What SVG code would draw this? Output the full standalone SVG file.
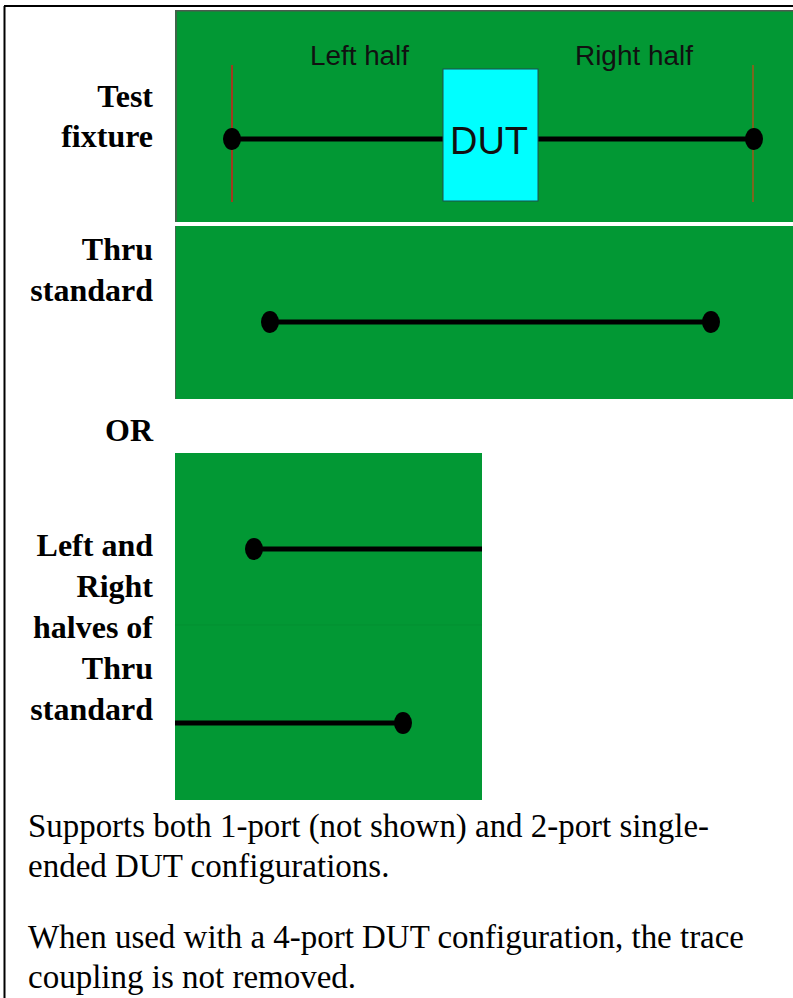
<svg xmlns="http://www.w3.org/2000/svg" width="793" height="998" viewBox="0 0 793 998">
<style>
.lbl{font-family:"Liberation Serif","Times New Roman",serif;font-weight:bold;font-size:32px;fill:#000;text-anchor:end}
.body{font-family:"Liberation Serif","Times New Roman",serif;font-size:33px;fill:#000}
.sans{font-family:"Liberation Sans",Arial,sans-serif;fill:#111}
.pcb{fill:#029834}
.trace{stroke:#000;stroke-width:5;fill:none}
.pad{fill:#000}
</style>
<rect width="793" height="998" fill="#fff"/>
<g id="frame">
<line x1="4.5" y1="6" x2="4.5" y2="998" stroke="#000" stroke-width="2"/>
<line x1="4" y1="6" x2="793" y2="6" stroke="#000" stroke-width="2.2"/>
</g>
<g id="labels">
<text class="lbl" x="153" y="107">Test</text>
<text class="lbl" x="153" y="147">fixture</text>
<text class="lbl" x="153" y="260">Thru</text>
<text class="lbl" x="153" y="301">standard</text>
<text class="lbl" x="153" y="441">OR</text>
<text class="lbl" x="153" y="556">Left and</text>
<text class="lbl" x="153" y="597">Right</text>
<text class="lbl" x="153" y="638">halves of</text>
<text class="lbl" x="153" y="679">Thru</text>
<text class="lbl" x="153" y="720">standard</text>
</g>
<g id="test-fixture">
<rect class="pcb" x="175" y="10" width="618" height="212"/>
<path d="M176 222 V10.8 H793" stroke="#4d5a4f" stroke-width="1.6" fill="none"/>
<text class="sans" x="310" y="65" font-size="27" textLength="99" lengthAdjust="spacingAndGlyphs">Left half</text>
<text class="sans" x="575" y="65" font-size="27" textLength="118" lengthAdjust="spacingAndGlyphs">Right half</text>
<line x1="232" y1="65" x2="232" y2="202" stroke="#b0301c" stroke-width="1.8"/>
<line x1="753" y1="65" x2="753" y2="202" stroke="#86621e" stroke-width="1.8"/>
<line class="trace" x1="232" y1="139" x2="443" y2="139" stroke-width="5.5"/>
<line class="trace" x1="538" y1="139" x2="754" y2="139" stroke-width="5.5"/>
<ellipse class="pad" cx="232" cy="139" rx="9" ry="11"/>
<ellipse class="pad" cx="754" cy="139" rx="9" ry="11"/>
<g id="dut">
<rect x="443" y="69" width="95" height="132" fill="#00ffff" stroke="#1f4f4f" stroke-width="1"/>
<text class="sans" x="450" y="154" font-size="38" textLength="78" lengthAdjust="spacingAndGlyphs">DUT</text>
</g>
</g>
<g id="thru-standard">
<rect class="pcb" x="175" y="226" width="618" height="173"/>
<line x1="175.5" y1="226" x2="175.5" y2="399" stroke="#3f6a4a" stroke-width="1"/>
<line class="trace" x1="270" y1="322" x2="711" y2="322"/>
<ellipse class="pad" cx="270" cy="322" rx="9" ry="11"/>
<ellipse class="pad" cx="711" cy="322" rx="9" ry="11"/>
</g>
<g id="halves">
<rect class="pcb" x="175" y="453" width="307" height="347"/>
<line x1="175" y1="625" x2="482" y2="625" stroke="#028f30" stroke-width="1"/>
<line class="trace" x1="254" y1="549" x2="482" y2="549"/>
<ellipse class="pad" cx="254" cy="549" rx="9" ry="11"/>
<line class="trace" x1="175" y1="723" x2="403" y2="723"/>
<ellipse class="pad" cx="403" cy="723" rx="9" ry="11"/>
</g>
<g id="notes">
<text class="body" x="28" y="837" textLength="681" lengthAdjust="spacingAndGlyphs">Supports both 1-port (not shown) and 2-port single-</text>
<text class="body" x="28" y="877">ended DUT configurations.</text>
<text class="body" x="28" y="948" textLength="716" lengthAdjust="spacingAndGlyphs">When used with a 4-port DUT configuration, the trace</text>
<text class="body" x="28" y="988">coupling is not removed.</text>
</g>
</svg>
